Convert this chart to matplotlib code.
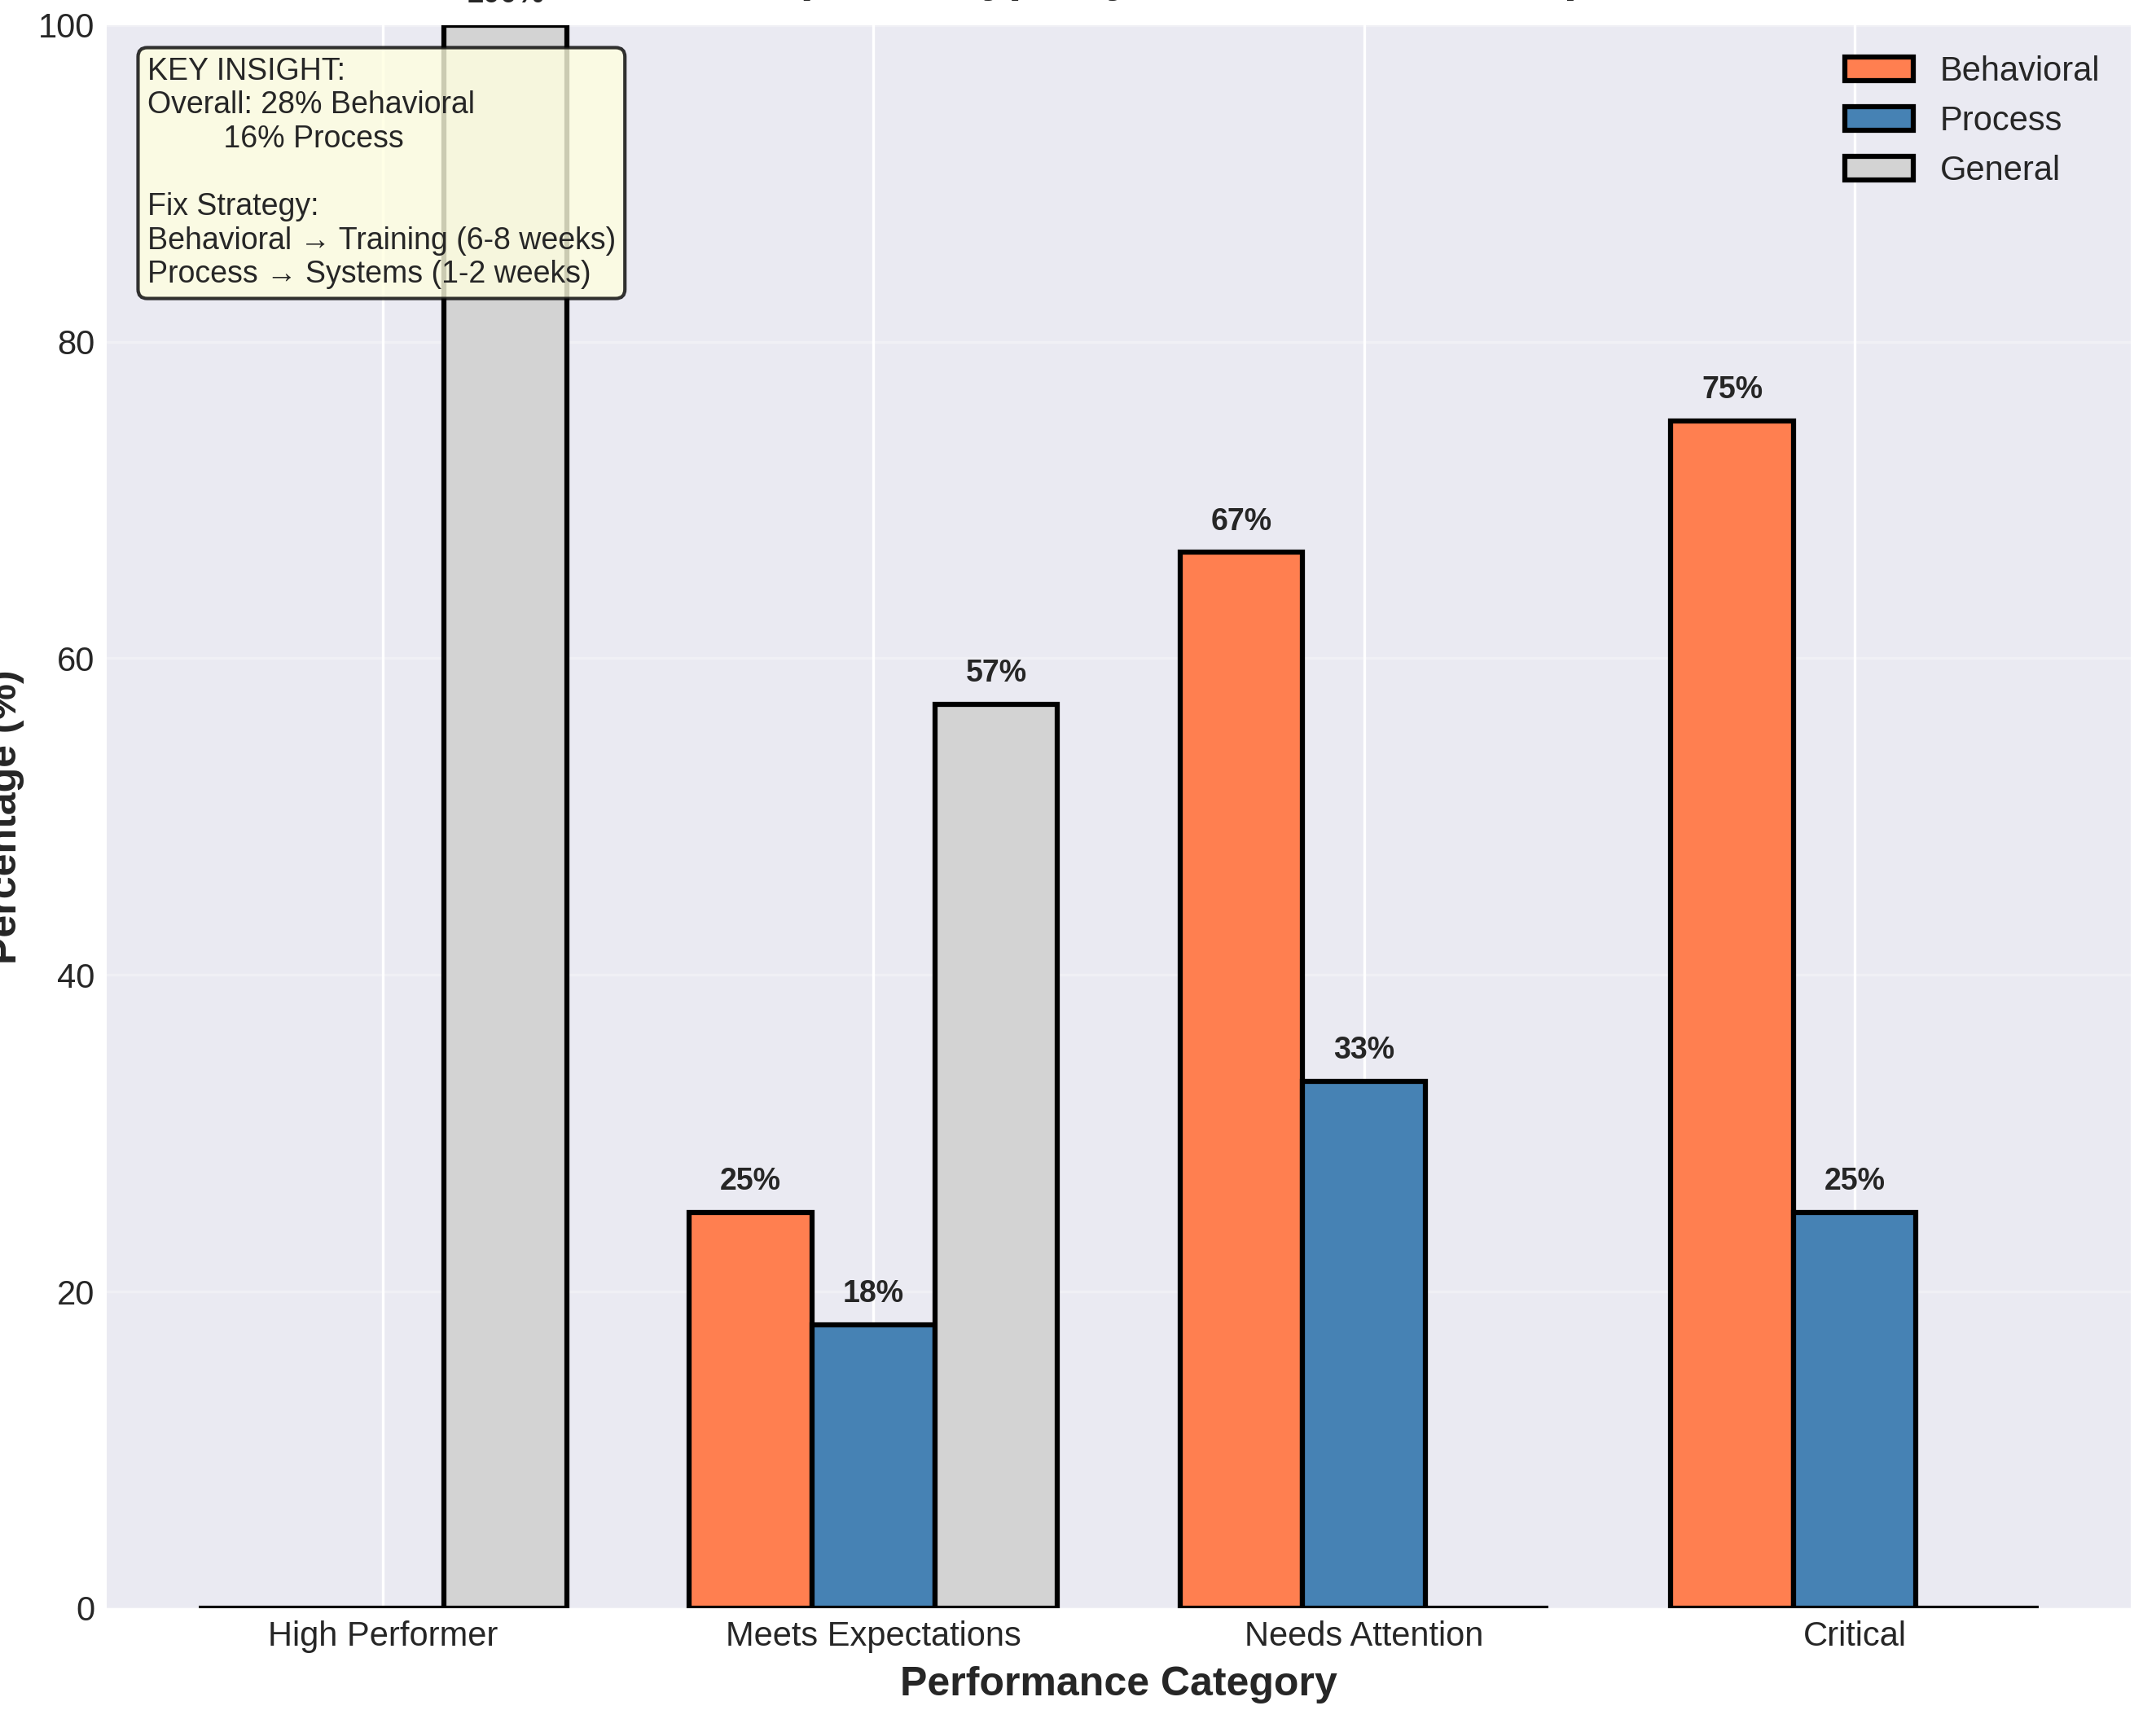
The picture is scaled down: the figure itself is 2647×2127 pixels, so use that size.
import matplotlib
matplotlib.use("Agg")
import matplotlib.pyplot as plt
import numpy as np

# data
categories = ['High Performer', 'Meets Expectations', 'Needs Attention', 'Critical']
behavioral = [0, 25.0, 66.7, 75.0]
process = [0, 17.9, 33.3, 25.0]
general = [100.0, 57.1, 0, 0]

plt.style.use('seaborn-v0_8-darkgrid')
plt.rcParams['font.family'] = ['Liberation Sans', 'DejaVu Sans']

fig = plt.figure(figsize=(2647 / 300, 2127 / 300), dpi=300)
ax = fig.add_axes([0.0495, 0.0715, 0.9388, 0.9140])

x = np.arange(len(categories))
width = 0.25

bars1 = ax.bar(x - width, behavioral, width, label='Behavioral', color='coral',
               edgecolor='black', linewidth=1.5)
bars2 = ax.bar(x, process, width, label='Process', color='steelblue',
               edgecolor='black', linewidth=1.5)
bars3 = ax.bar(x + width, general, width, label='General', color='lightgray',
               edgecolor='black', linewidth=1.5)

# value labels on top of non-empty bars
for bars in [bars1, bars2, bars3]:
    for bar in bars:
        h = bar.get_height()
        if h > 0:
            ax.text(bar.get_x() + bar.get_width() / 2, h + 1, f'{h:.0f}%',
                    ha='center', va='bottom', fontsize=9, fontweight='bold')

ax.set_xlabel('Performance Category', fontsize=12, fontweight='bold')
ax.set_ylabel('Percentage (%)', fontsize=12, fontweight='bold')
ax.set_title('Development Type by Performance Group', fontsize=14,
             fontweight='bold', pad=10)
ax.set_xticks(x)
ax.set_xticklabels(categories)
ax.set_ylim(0, 100)
ax.legend(loc='upper right', fontsize=10)
ax.grid(axis='y', alpha=0.3)

insight = ("KEY INSIGHT:\n"
           "Overall: 28% Behavioral\n"
           "         16% Process\n"
           "\n"
           "Fix Strategy:\n"
           "Behavioral \u2192 Training (6-8 weeks)\n"
           "Process \u2192 Systems (1-2 weeks)")
ax.text(0.02, 0.98, insight, transform=ax.transAxes, fontsize=9, va='top',
        bbox=dict(boxstyle='round', facecolor='lightyellow', alpha=0.8,
                  edgecolor='black', linewidth=1))

fig.savefig('out.png', dpi=300)
